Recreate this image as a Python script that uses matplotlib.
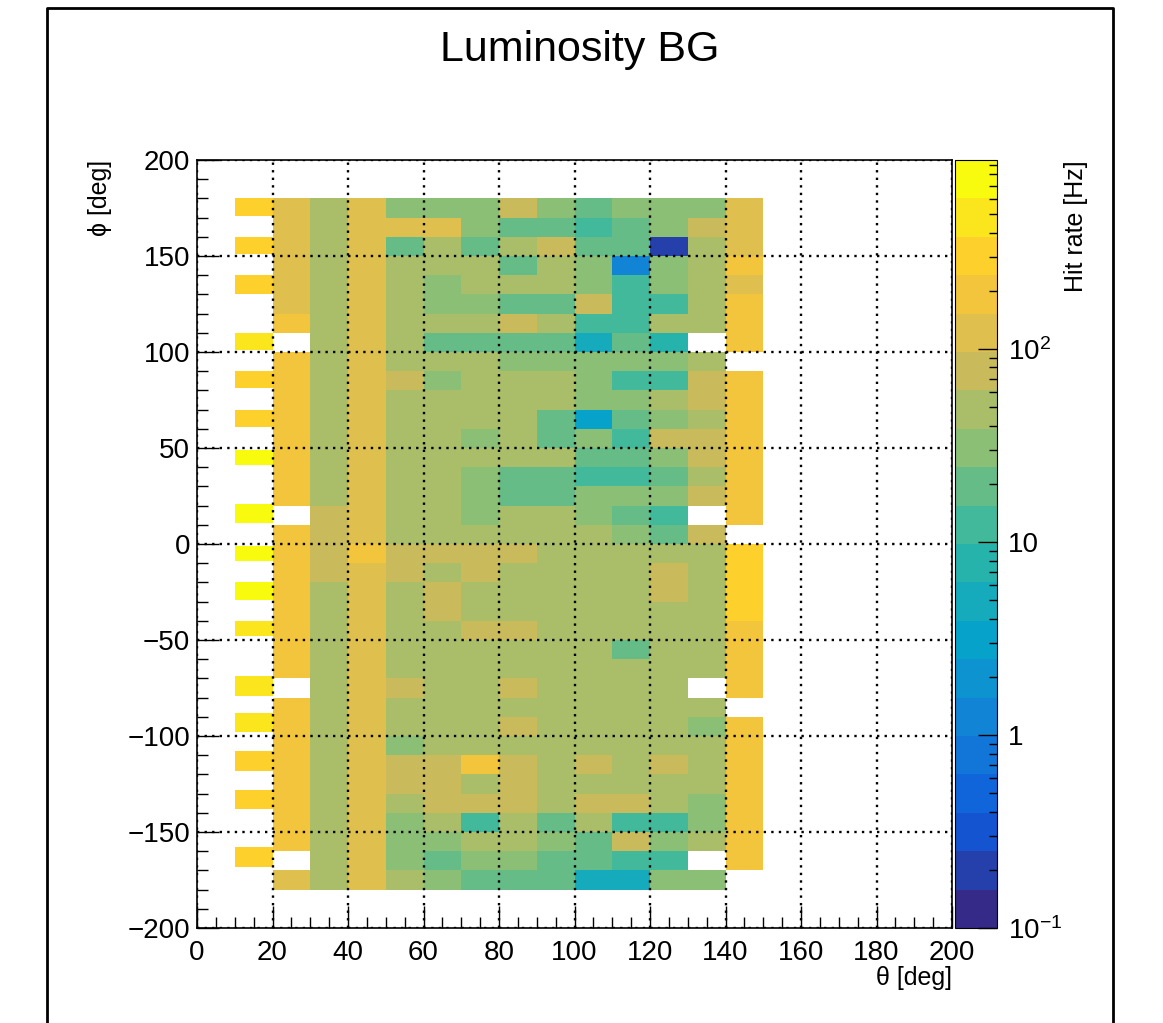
import numpy as np
import matplotlib
matplotlib.use("Agg")
import matplotlib.pyplot as plt
from matplotlib.colors import LinearSegmentedColormap, LogNorm
from matplotlib.ticker import MultipleLocator, LogLocator, NullFormatter
from matplotlib.lines import Line2D

plt.rcParams['font.family'] = ['Liberation Sans', 'DejaVu Sans']

nan = np.nan

# histogram binning (theta 20..150, phi -180..180)
theta_edges = [20, 30, 40, 50, 60, 70, 80, 90, 100, 110, 120, 130, 140, 150]
phi_edges = list(range(-180, 181, 10))

# hit rate [Hz], rows from phi 170..180 (top) down to -180..-170 (bottom)
rate_rows = [
    [120, 50, 120, 30, 38, 30, 75, 30, 18, 30, 25, 38, 120],
    [120, 50, 130, 110, 100, 30, 18, 18, 12, 18, 30, 70, 120],
    [120, 50, 120, 18, 45, 18, 45, 75, 18, 18, 0.2, 45, 120],
    [120, 50, 120, 50, 50, 50, 18, 50, 38, 1.1, 35, 45, 170],
    [120, 50, 130, 50, 38, 50, 50, 45, 30, 10, 35, 50, 100],
    [120, 50, 130, 50, 30, 30, 18, 22, 75, 10, 12, 50, 190],
    [190, 50, 130, 50, 50, 60, 75, 45, 14, 10, 45, 50, 190],
    [nan, 50, 110, 50, 22, 24, 24, 24, 6, 22, 8, nan, 190],
    [200, 50, 110, 60, 50, 50, 38, 38, 38, 30, 30, 50, nan],
    [200, 50, 110, 75, 35, 50, 50, 50, 30, 12, 12, 70, 200],
    [200, 50, 110, 50, 50, 50, 50, 50, 38, 38, 50, 70, 200],
    [200, 50, 110, 50, 50, 50, 45, 16, 3, 18, 30, 50, 200],
    [200, 50, 120, 50, 50, 30, 50, 18, 38, 10, 70, 75, 200],
    [200, 50, 120, 50, 50, 60, 50, 45, 22, 22, 30, 75, 200],
    [200, 50, 120, 50, 45, 30, 24, 18, 12, 12, 24, 50, 200],
    [200, 50, 120, 50, 50, 32, 22, 18, 38, 30, 30, 75, 220],
    [nan, 70, 120, 50, 50, 38, 50, 50, 38, 22, 12, nan, 200],
    [210, 70, 120, 60, 50, 50, 50, 50, 50, 30, 22, 70, nan],
    [210, 75, 200, 75, 75, 75, 75, 50, 50, 50, 50, 50, 300],
    [210, 70, 130, 75, 50, 75, 50, 50, 50, 50, 75, 50, 300],
    [210, 60, 130, 60, 75, 50, 50, 50, 50, 50, 75, 50, 300],
    [210, 50, 130, 60, 80, 50, 50, 50, 50, 50, 60, 50, 300],
    [210, 50, 130, 50, 50, 75, 75, 50, 50, 50, 50, 45, 170],
    [210, 50, 120, 50, 50, 50, 50, 50, 50, 24, 50, 50, 200],
    [210, 50, 120, 50, 50, 50, 45, 50, 50, 50, 60, 50, 200],
    [nan, 50, 120, 75, 50, 50, 75, 50, 50, 50, 60, nan, 200],
    [200, 50, 120, 50, 50, 50, 50, 50, 50, 50, 50, 50, nan],
    [200, 50, 120, 45, 50, 50, 75, 50, 50, 50, 50, 38, 200],
    [200, 50, 120, 38, 50, 50, 50, 50, 50, 50, 50, 45, 200],
    [200, 50, 120, 75, 75, 220, 75, 50, 80, 50, 75, 50, 200],
    [200, 50, 120, 75, 80, 50, 75, 50, 50, 50, 50, 45, 200],
    [200, 50, 120, 50, 75, 75, 75, 50, 75, 75, 50, 32, 200],
    [200, 50, 120, 30, 45, 12, 50, 18, 50, 12, 12, 38, 200],
    [200, 50, 120, 38, 30, 45, 45, 30, 18, 75, 30, 50, 200],
    [nan, 50, 120, 38, 18, 30, 30, 24, 18, 12, 12, nan, 200],
    [110, 50, 120, 50, 30, 18, 18, 18, 5, 6, 35, 35, nan],
]

# theta 10..20 strip: separate phi segments
left_lo = [171, 151, 130, 101, 81, 61, 41, 11, -9, -29, -48, -79, -98, -118, -138, -168]
left_hi = [180, 160, 140, 110, 90, 70, 49, 21, -1, -20, -40, -69, -88, -108, -128, -158]
left_val = [300, 300, 300, 500, 350, 350, 700, 800, 800, 700, 400, 450, 450, 320, 300, 300]

cbar_ticks = [0.1, 1, 10, 100]
cbar_labels = [r'$\mathregular{10^{-1}}$', '1', '10', r'$\mathregular{10^{2}}$']

# ROOT kBird palette
stops = [0, .125, .25, .375, .5, .625, .75, .875, 1]
red = [0.2082, 0.0592, 0.0780, 0.0232, 0.1802, 0.5301, 0.8186, 0.9956, 0.9764]
green = [0.1664, 0.3599, 0.5041, 0.6419, 0.7178, 0.7492, 0.7328, 0.7862, 0.9832]
blue = [0.5293, 0.8684, 0.8385, 0.7914, 0.6425, 0.4662, 0.3499, 0.1968, 0.0539]
bird = LinearSegmentedColormap.from_list('bird', list(zip(stops, zip(red, green, blue)))).resampled(20)
norm = LogNorm(vmin=0.1, vmax=950)

W, H = 1163, 1023
fig = plt.figure(figsize=(W / 100, H / 100), dpi=100)


def px(x0, y0, x1, y1):
    return [x0 / W, 1 - y1 / H, (x1 - x0) / W, (y1 - y0) / H]


ax = fig.add_axes(px(197, 160, 952, 928))
cax = fig.add_axes(px(955, 160, 997, 928))

rate = np.ma.masked_invalid(np.array(rate_rows, dtype=float)[::-1])
mesh = ax.pcolormesh(theta_edges, phi_edges, rate, cmap=bird, norm=norm)

# left strip with its own phi edges (gaps masked)
edges, vals = [], []
for lo, hi, v in sorted(zip(left_lo, left_hi, left_val)):
    if edges:
        vals.append(nan)
    edges += [lo, hi]
    vals.append(v)
ax.pcolormesh([10, 20], edges, np.ma.masked_invalid(np.array(vals)[:, None]), cmap=bird, norm=norm)

ax.set_xlim(0, 200)
ax.set_ylim(-200, 200)
ax.xaxis.set_major_locator(MultipleLocator(20))
ax.xaxis.set_minor_locator(MultipleLocator(5))
ax.yaxis.set_major_locator(MultipleLocator(50))
ax.yaxis.set_minor_locator(MultipleLocator(10))
ax.tick_params(which='both', direction='in', top=False, right=False, labelsize=20, width=1)
ax.tick_params(which='major', length=16)
ax.tick_params(which='minor', length=8)
ax.tick_params(axis='x', pad=9)
ax.tick_params(axis='y', pad=5)
ax.grid(True, which='major', color='black', linestyle=(0, (1, 2.2)), linewidth=1.7)
ax.set_axisbelow(False)
for s in ax.spines.values():
    s.set_linewidth(1.2)

ax.set_xlabel('θ [deg]', fontsize=18, loc='right')
ax.xaxis.set_label_coords(1.0, -0.05)
ax.set_ylabel('ϕ [deg]', fontsize=18, loc='top')
ax.yaxis.set_label_coords(-0.113, 1.0)

cb = fig.colorbar(mesh, cax=cax)
cb.set_ticks(cbar_ticks)
cb.set_ticklabels(cbar_labels)
cax.yaxis.set_minor_locator(LogLocator(base=10, subs=np.arange(2, 10)))
cax.yaxis.set_minor_formatter(NullFormatter())
cax.tick_params(which='both', direction='in', right=True, labelsize=20, width=1, pad=8)
cax.tick_params(which='major', length=14)
cax.tick_params(which='minor', length=6)
cb.outline.set_linewidth(0.8)
cax.set_ylabel('Hit rate [Hz]', fontsize=18, loc='top')
cax.yaxis.set_label_coords(2.6, 1.0)

fig.text(580 / W, 1 - 50 / H, 'Luminosity BG', ha='center', va='center', fontsize=31)

# canvas border
fig.add_artist(Line2D([47 / W, 47 / W, 1113 / W, 1113 / W], [0, 1 - 8 / H, 1 - 8 / H, 0],
                      transform=fig.transFigure, color='black', linewidth=2))

fig.savefig('out.png', dpi=100)
